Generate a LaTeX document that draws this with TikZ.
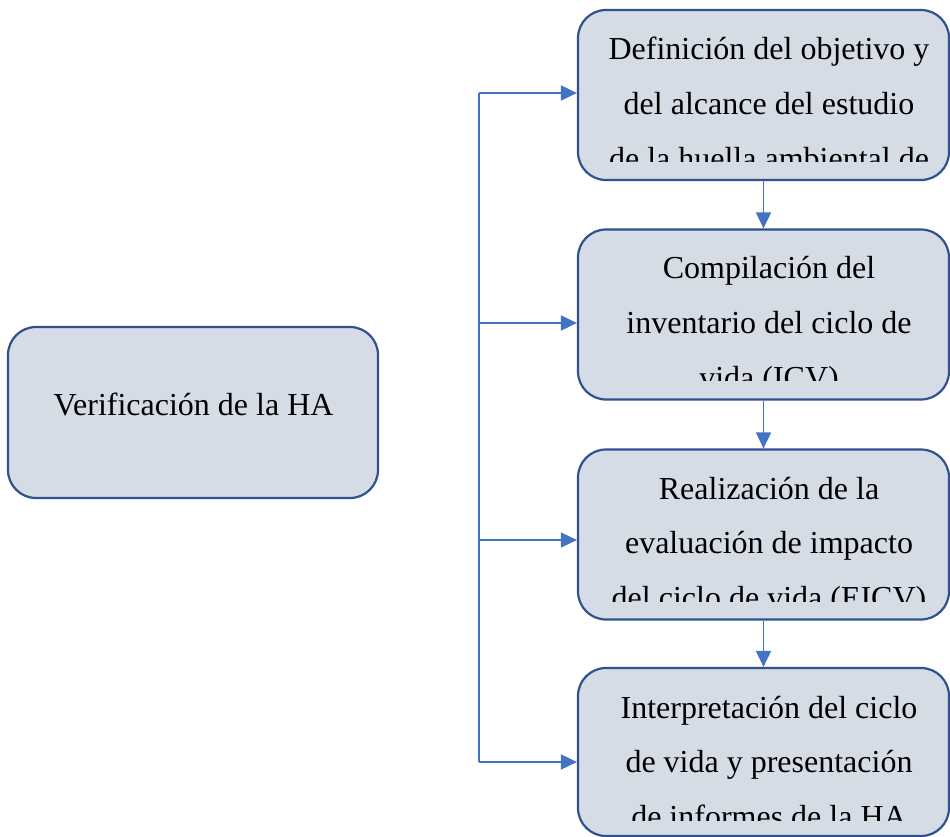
\documentclass[tikz,border=0pt]{standalone}
\usepackage{fontspec}
\setmainfont{Liberation Serif}
\usetikzlibrary{arrows.meta}
\definecolor{boxfill}{HTML}{D6DCE5}
\definecolor{boxline}{HTML}{2F528F}
\definecolor{arrcol}{HTML}{4472C4}
\tikzset{
  box/.style={draw=boxline, fill=boxfill, line width=2.2pt, rounded corners=28pt, inner sep=0pt},
  txt/.style={anchor=base, inner sep=0pt, font=\fontsize{32}{40}\selectfont},
  arr/.style={draw=arrcol, line width=1.8pt, -{Triangle[length=16pt,width=15pt]}},
  trunk/.style={draw=arrcol, line width=1.8pt}
}
\begin{document}
\begin{tikzpicture}[x=1pt,y=-1pt]
\useasboundingbox (0,0) rectangle (950,837);
% left box
\node[box, minimum width=370pt, minimum height=171pt] (L) at (193,412.5) {};
\node[txt] (Lt) at (193.5,415) {Verificación de la HA};
% right boxes
\node[box, minimum width=371pt, minimum height=170pt] (b1) at (763.5,95) {};
\node[box, minimum width=371pt, minimum height=170pt] (b2) at (763.5,314.5) {};
\node[box, minimum width=371pt, minimum height=170pt] (b3) at (763.5,534.5) {};
\node[box, minimum width=371pt, minimum height=168pt] (b4) at (763.5,752) {};
% texts (clipped)
\begin{scope}
\clip (578,10) rectangle (949,161.7);
\node[txt] (t11) at (769,60) {Definición del objetivo y};
\node[txt] (t12) at (769,114.5) {del alcance del estudio};
\node[txt] (t13) at (769,169.5) {de la huella ambiental de};
\end{scope}
\begin{scope}
\clip (578,229) rectangle (949,380.5);
\node[txt] (t21) at (769,278.5) {Compilación del};
\node[txt] (t22) at (769,333) {inventario del ciclo de};
\node[txt] (t23) at (769,388) {vida (ICV)};
\end{scope}
\begin{scope}
\clip (578,449) rectangle (949,601.7);
\node[txt] (t31) at (769,499) {Realización de la};
\node[txt] (t32) at (769,553.5) {evaluación de impacto};
\node[txt] (t33) at (769,608.5) {del ciclo de vida (EICV)};
\end{scope}
\begin{scope}
\clip (578,669) rectangle (949,820.5);
\node[txt] (t41) at (769,718) {Interpretación del ciclo};
\node[txt] (t42) at (769,772.5) {de vida y presentación};
\node[txt] (t43) at (769,827.5) {de informes de la HA};
\end{scope}
% trunk
\coordinate (c1) at (479,93);
\coordinate (c2) at (479,323);
\coordinate (c3) at (479,540);
\coordinate (c4) at (479,762);
\draw[trunk] (c1) -- (c4);
\draw[arr] (c1) -- (c1 -| b1.west);
\draw[arr] (c2) -- (c2 -| b2.west);
\draw[arr] (c3) -- (c3 -| b3.west);
\draw[arr] (c4) -- (c4 -| b4.west);
% vertical arrows
\draw[arr] (b1.south) -- (b2.north);
\draw[arr] (b2.south) -- (b3.north);
\draw[arr] (b3.south) -- (b4.north);
\end{tikzpicture}
\end{document}
